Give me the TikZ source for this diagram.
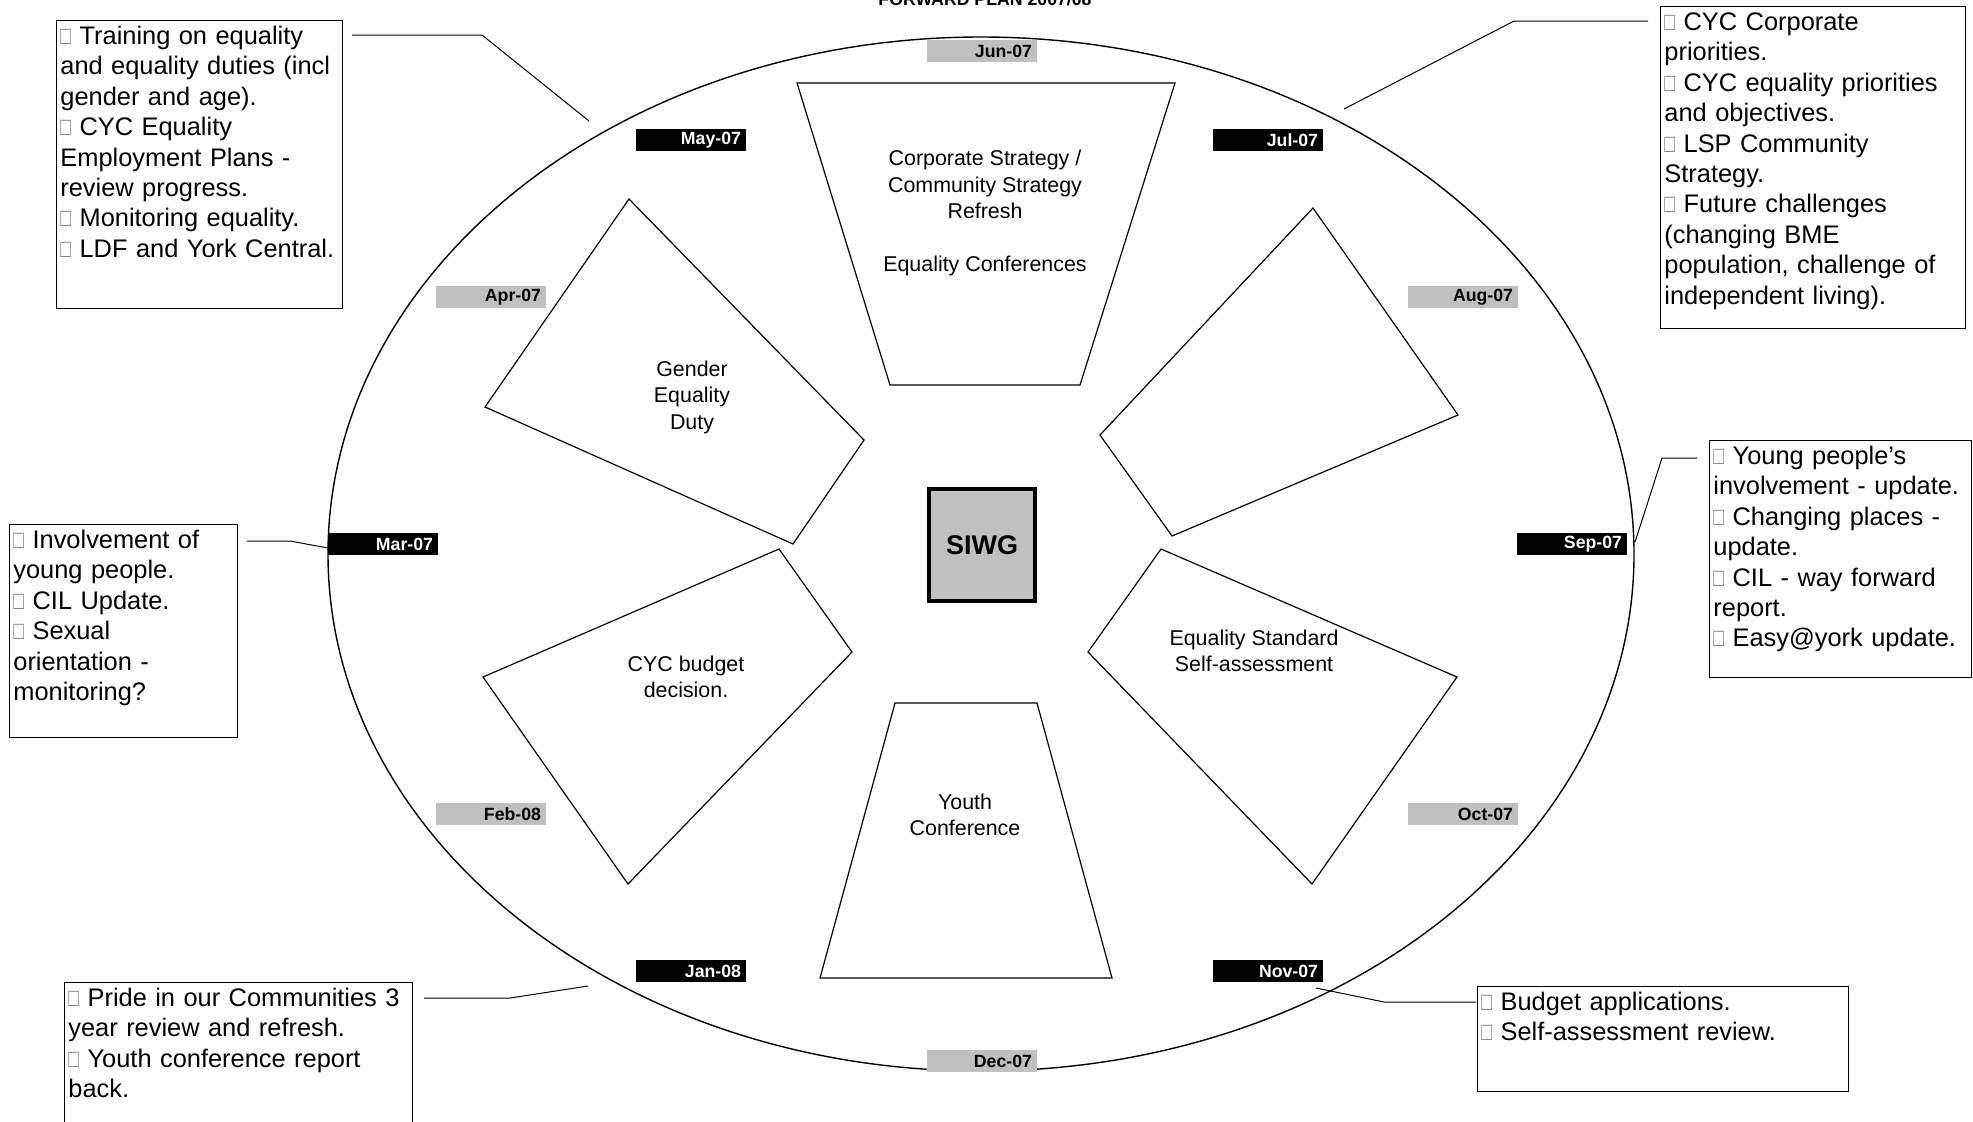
\documentclass[tikz,border=0pt]{standalone}
\usepackage{fontspec}
\setmainfont{Liberation Sans}
\usetikzlibrary{shapes.geometric}
\definecolor{silver}{RGB}{192,192,192}
\newcommand{\bx}{\textcolor{gray}{\scalebox{0.7}[1]{□}}}

\begin{document}
\begin{tikzpicture}[x=0.5pt,y=-0.5pt,
  note/.style={draw, anchor=north west, inner sep=2pt, align=left, text height=10pt, font=\fontsize{12.7}{15.2}\selectfont},
  mon/.style={font=\fontsize{8.85}{10}\selectfont\bfseries, text width=50pt, align=right, minimum height=11pt, inner xsep=2.5pt, inner ysep=0pt},
  darkmon/.style={mon, fill=black, text=white},
  lightmon/.style={mon, fill=silver},
  lbl/.style={align=center, font=\fontsize{10.7}{13.25}\selectfont},
  wire/.style={line width=0.5pt}]
  \useasboundingbox (0,0) rectangle (1973,1121);

  \node[font=\fontsize{8.85}{10}\selectfont\bfseries, anchor=base] (title) at (985,5) {FORWARD PLAN 2007/08};

  \node[draw, ellipse, line width=0.7pt, minimum width=653pt, minimum height=517pt, inner sep=0pt] (ring) at (981,554) {};

  % months
  \node[lightmon] (jun) at (982,51) {Jun-07};
  \node[darkmon] (may) at (691,140) {May-07};
  \node[darkmon] (jul) at (1268,140) {Jul-07};
  \node[lightmon] (apr) at (491,297) {Apr-07};
  \node[lightmon] (aug) at (1463,297) {Aug-07};
  \node[darkmon] (mar) at (383,544) {Mar-07};
  \node[darkmon] (sep) at (1572,544) {Sep-07};
  \node[lightmon] (feb) at (491,814) {Feb-08};
  \node[lightmon] (oct) at (1463,814) {Oct-07};
  \node[darkmon] (jan) at (691,971) {Jan-08};
  \node[darkmon] (nov) at (1268,971) {Nov-07};
  \node[lightmon] (dec) at (982,1061) {Dec-07};

  % segments
  \draw[line width=0.6pt] (797,83) -- (1175,83) -- (1080,385) -- (890,385) -- cycle;
  \draw[line width=0.6pt] (629,199) -- (864,440) -- (793,544) -- (485,407) -- cycle;
  \draw[line width=0.6pt] (1313,208) -- (1458,415) -- (1172,536) -- (1100,435) -- cycle;
  \draw[line width=0.6pt] (779,549) -- (852,652) -- (628,884) -- (483,677) -- cycle;
  \draw[line width=0.6pt] (1161,549) -- (1457,677) -- (1312,884) -- (1088,652) -- cycle;
  \draw[line width=0.6pt] (895,703) -- (1037,703) -- (1112,978) -- (820,978) -- cycle;

  \node[lbl] (corp) at (985,213) {Corporate Strategy /\\Community Strategy\\Refresh\\ \mbox{}\\Equality Conferences};
  \node[lbl] (gender) at (692,397) {Gender\\Equality\\Duty};
  \node[lbl] (budget) at (686,677) {CYC budget\\decision.};
  \node[lbl] (youth) at (965,815) {Youth\\Conference};
  \node[lbl] (standard) at (1254,651) {Equality Standard\\Self-assessment};

  \node[draw, line width=2pt, fill=silver, minimum width=53pt, minimum height=56pt, font=\fontsize{13.5}{16}\selectfont\bfseries] (siwg) at (982,545) {SIWG};

  % notes
  \node[note, text width=139pt, text depth=130pt] (nmay) at (56,20) {\bx{} Training on equality\\and equality duties (incl\\gender and age).\\\bx{} CYC Equality\\Employment Plans -\\review progress.\\\bx{} Monitoring equality.\\\bx{} LDF and York Central.};
  \node[note, text width=148.5pt, text depth=147pt] (njul) at (1660,6) {\bx{} CYC Corporate\\priorities.\\\bx{} CYC equality priorities\\and objectives.\\\bx{} LSP Community\\Strategy.\\\bx{} Future challenges\\(changing BME\\population, challenge of\\independent living).};
  \node[note, text width=110pt, text depth=92.5pt] (nmar) at (9,524) {\bx{} Involvement of\\young people.\\\bx{} CIL Update.\\\bx{} Sexual\\orientation -\\monitoring?};
  \node[note, text width=127pt, text depth=104.5pt] (nsep) at (1709,440) {\bx{} Young people's\\involvement - update.\\\bx{} Changing places -\\update.\\\bx{} CIL - way forward\\report.\\\bx{} Easy@york update.};
  \node[note, text width=170pt, text depth=66pt] (njan) at (64,982) {\bx{} Pride in our Communities 3\\year review and refresh.\\\bx{} Youth conference report\\back.};
  \node[note, text width=181.5pt, text depth=38.5pt] (nnov) at (1477,986) {\bx{} Budget applications.\\\bx{} Self-assessment review.};

  % leaders
  \coordinate (may-a) at (352,35);
  \coordinate (may-b) at (482,35);
  \coordinate (may-c) at (589,121);
  \coordinate (jul-a) at (1648,21);
  \coordinate (jul-b) at (1514,21);
  \coordinate (jul-c) at (1344,109);
  \coordinate (mar-a) at (247,541);
  \coordinate (mar-b) at (290,541);
  \coordinate (mar-c) at (328,548);
  \coordinate (sep-a) at (1697,458);
  \coordinate (sep-b) at (1662,458);
  \coordinate (sep-c) at (1635,542);
  \coordinate (jan-a) at (424,998);
  \coordinate (jan-b) at (510,998);
  \coordinate (jan-c) at (588,986);
  \coordinate (nov-a) at (1476,1002);
  \coordinate (nov-b) at (1384,1002);
  \coordinate (nov-c) at (1316,988);
  \draw[wire] (may-a) -- (may-b) -- (may-c);
  \draw[wire] (jul-a) -- (jul-b) -- (jul-c);
  \draw[wire] (mar-a) -- (mar-b) -- (mar-c);
  \draw[wire] (sep-a) -- (sep-b) -- (sep-c);
  \draw[wire] (jan-a) -- (jan-b) -- (jan-c);
  \draw[wire] (nov-a) -- (nov-b) -- (nov-c);
\end{tikzpicture}
\end{document}
